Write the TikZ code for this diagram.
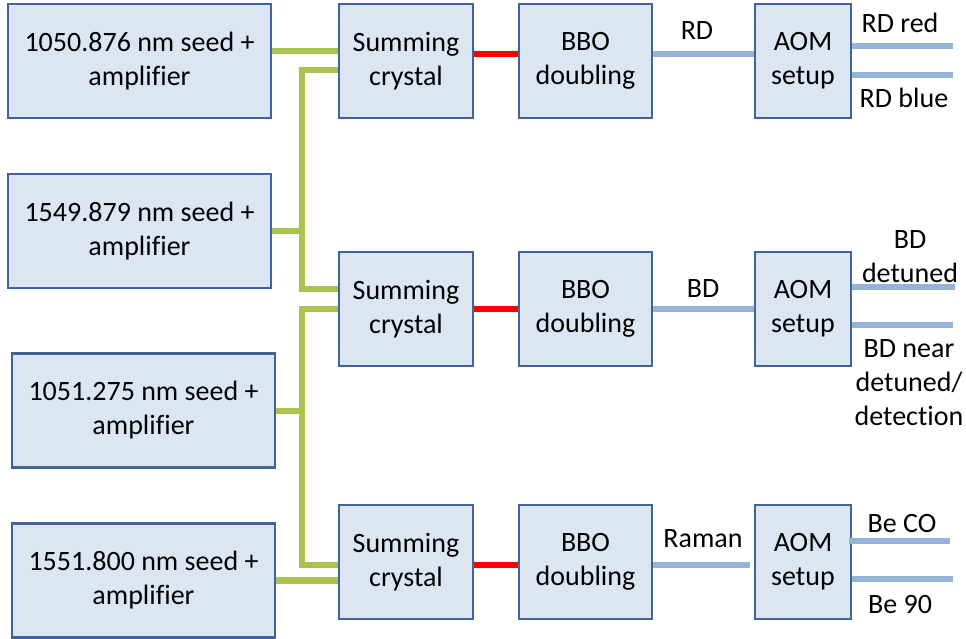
\documentclass[tikz,border=0pt]{standalone}
\usepackage{fontspec}
\setmainfont{Carlito}[Ligatures=CommonOff]
\definecolor{boxfill}{HTML}{DCE6F2}
\definecolor{boxline}{HTML}{41649A}
\definecolor{greenbeam}{HTML}{A9C34F}
\definecolor{redbeam}{HTML}{FF0000}
\definecolor{bluebeam}{HTML}{95B3D7}
\begin{document}
\begin{tikzpicture}[x=1pt,y=-1pt,
  box/.style={draw=boxline, fill=boxfill, line width=2.6pt, align=center, inner sep=0pt,
    font=\fontsize{28}{34}\selectfont},
  seedbox/.style={box, minimum width=263pt, minimum height=114pt},
  sumbox/.style={box, minimum width=134pt, minimum height=114pt},
  bbobox/.style={box, minimum width=133pt, minimum height=114pt},
  aombox/.style={box, minimum width=96pt, minimum height=114pt},
  lbl/.style={align=center, inner sep=0pt, font=\fontsize{28}{34}\selectfont},
  gbeam/.style={draw=greenbeam, line width=6.5pt},
  rbeam/.style={draw=redbeam, line width=6.5pt},
  bbeam/.style={draw=bluebeam, line width=6.5pt}]
\useasboundingbox (0,0) rectangle (966,639);

% seed boxes
\node[seedbox] (seed1) at (139.5,61) {1050.876 nm seed +\\amplifier};
\node[seedbox] (seed2) at (139.5,231) {1549.879 nm seed +\\amplifier};
\node[seedbox] (seed3) at (143.5,410.5) {1051.275 nm seed +\\amplifier};
\node[seedbox] (seed4) at (143.5,580.5) {1551.800 nm seed +\\amplifier};

% summing crystals
\node[sumbox] (sum1) at (406,61) {Summing\\crystal};
\node[sumbox] (sum2) at (406,309) {Summing\\crystal};
\node[sumbox] (sum3) at (406,562) {Summing\\crystal};

% BBO doubling
\node[bbobox] (bbo1) at (585.5,61) {BBO\\doubling};
\node[bbobox] (bbo2) at (585.5,309) {BBO\\doubling};
\node[bbobox] (bbo3) at (585.5,562) {BBO\\doubling};

% AOM setups
\node[aombox] (aom1) at (803,61) {AOM\\setup};
\node[aombox] (aom2) at (803,309) {AOM\\setup};
\node[aombox] (aom3) at (803,562) {AOM\\setup};

% junctions and free ends
\coordinate (j1) at (302,231);
\coordinate (j2) at (302,411);
\coordinate (o1a) at (953,46);
\coordinate (o1b) at (953,75);
\coordinate (o2a) at (955,287);
\coordinate (o2b) at (953,325);
\coordinate (o3a) at (950,541);
\coordinate (o3b) at (953,579);

% green beams
\draw[gbeam] ([yshift=10pt]seed1.east) -- ([yshift=10pt]sum1.west);
\draw[gbeam] ([yshift=-9pt]sum1.west) -| (j1) |- ([yshift=20pt]sum2.west);
\draw[gbeam] (seed2.east) -- (j1);
\draw[gbeam] (sum2.west) -| (j2) |- ([yshift=-3pt]sum3.west);
\draw[gbeam] (seed3.east |- j2) -- (j2);
\draw[gbeam] (seed4.east) -- (sum3.west |- seed4.east);

% red beams
\draw[rbeam] ([yshift=7pt]sum1.east) -- ([yshift=7pt]bbo1.west);
\draw[rbeam] (sum2.east) -- (bbo2.west);
\draw[rbeam] ([yshift=-3pt]sum3.east) -- ([yshift=-3pt]bbo3.west);

% blue beams
\draw[bbeam] ([yshift=7pt]bbo1.east) -- ([yshift=7pt]aom1.west);
\draw[bbeam] (bbo2.east) -- (aom2.west);
\draw[bbeam] ([yshift=-3pt]bbo3.east) -- ([xshift=-4pt,yshift=-3pt]aom3.west);

\draw[bbeam] (aom1.east |- o1a) -- (o1a);
\draw[bbeam] (aom1.east |- o1b) -- (o1b);
\draw[bbeam] (aom2.east |- o2a) -- (o2a);
\draw[bbeam] (aom2.east |- o2b) -- (o2b);
\draw[bbeam] ([xshift=-3pt]aom3.east |- o3a) -- (o3a);
\draw[bbeam] (aom3.east |- o3b) -- (o3b);

% labels
\node[lbl, anchor=base] (lRD) at (697,40) {RD};
\node[lbl, anchor=base] (lBD) at (703,297) {BD};
\node[lbl, anchor=base] (lRaman) at (703,547) {Raman};
\node[lbl, anchor=base] (lRDred) at (900,33) {RD red};
\node[lbl, anchor=base] (lRDblue) at (904,108) {RD blue};
\node[lbl] (lBDdet) at (910,257) {BD\\detuned};
\node[lbl] (lBDnear) at (909,383) {BD near\\detuned/\\detection};
\node[lbl, anchor=base] (lBeCO) at (902,532) {Be CO};
\node[lbl, anchor=base] (lBe90) at (900,613) {Be 90};
\end{tikzpicture}
\end{document}
